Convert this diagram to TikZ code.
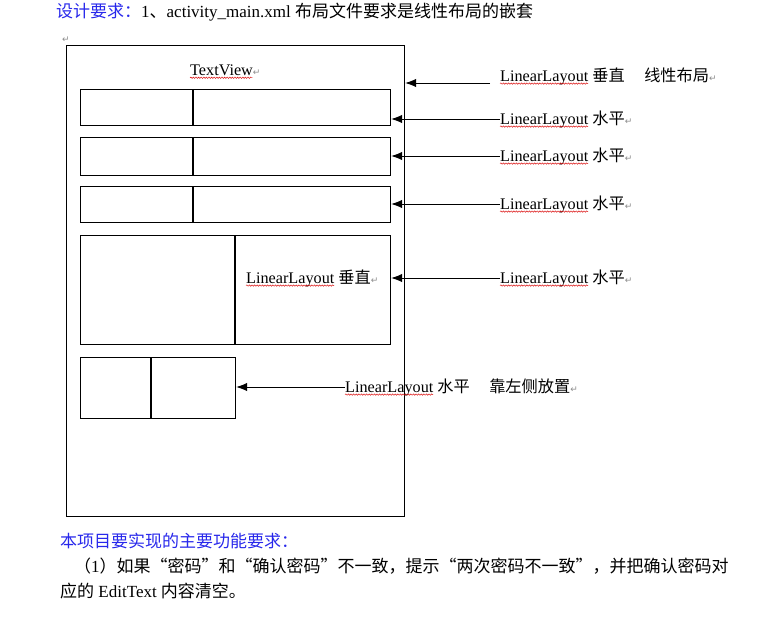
\documentclass[tikz,border=0pt]{standalone}
\usepackage{fontspec}
\setmainfont{Liberation Serif}
\newfontfamily\cjk{Noto Sans CJK SC}
\newfontfamily\djv{DejaVu Sans}
\usetikzlibrary{arrows.meta, calc, positioning, decorations.pathmorphing}
\definecolor{docblue}{RGB}{40,40,235}

\newcommand\parmark{{\djv\fontsize{9}{9}\selectfont\color{black!45}\char"21B5}}
\newlength\llwidth
\newlength\tvwidth

\begin{document}
\settowidth{\llwidth}{\fontsize{16.2}{19}\selectfont LinearLayout}
\settowidth{\tvwidth}{\fontsize{16.2}{19}\selectfont TextView}
\begin{tikzpicture}[x=1pt, y=-1pt,
  box/.style={draw, line width=1.2pt, anchor=north west, inner sep=0pt},
  lbl/.style={anchor=west, inner sep=0pt, font=\fontsize{16.2}{19}\selectfont},
  txt/.style={anchor=west, inner sep=0pt, font=\fontsize{17}{20}\selectfont},
  arr/.style={-{Latex[length=11pt,width=8.5pt]}, line width=1pt},
  wave/.style={red!85!black, line width=0.45pt, decorate,
    decoration={snake, amplitude=0.7pt, segment length=2.6pt}}]
\useasboundingbox (0,0) rectangle (776,619);

% heading
\node[txt] (head) at (56,12) {{\cjk\color{docblue}设计要求：}1{\cjk 、}activity\_main.xml {\cjk 布局文件要求是线性布局的嵌套}};
\node[anchor=west, inner sep=0pt] (mark) at (62,40) {\parmark};

% outer box and rows
\node[box, minimum width=338pt, minimum height=471pt] (outer) at (66,45) {};
\node[lbl] (tv) at (190,70) {TextView\parmark};
\node[box, minimum width=310pt, minimum height=36pt] (row1) at (80,89) {};
\node[box, minimum width=310pt, minimum height=38pt] (row2) at (80,137) {};
\node[box, minimum width=310pt, minimum height=36pt] (row3) at (80,186) {};
\node[box, minimum width=310pt, minimum height=109pt] (row4) at (80,235) {};
\node[box, minimum width=155pt, minimum height=61pt] (row5) at (80,357) {};
% dividers
\foreach \r in {row1,row2,row3}
  \draw[line width=1.2pt] ([xshift=113pt]\r.north west) -- ([xshift=113pt]\r.south west);
\draw[line width=1.2pt] ([xshift=155pt]row4.north west) -- ([xshift=155pt]row4.south west);
\draw[line width=1.2pt] ([xshift=71pt]row5.north west) -- ([xshift=71pt]row5.south west);
\node[lbl] (inner) at (246,278) {LinearLayout {\cjk 垂直}\parmark};

% labels on the right
\node[lbl] (lab1) at (500,76) {LinearLayout {\cjk 垂直\hspace{1.2em}线性布局}\parmark};
\node[lbl] (lab2) at (500,119) {LinearLayout {\cjk 水平}\parmark};
\node[lbl] (lab3) at (500,156) {LinearLayout {\cjk 水平}\parmark};
\node[lbl] (lab4) at (500,204) {LinearLayout {\cjk 水平}\parmark};
\node[lbl] (lab5) at (500,278) {LinearLayout {\cjk 水平}\parmark};
\node[lbl] (lab6) at (345,387) {LinearLayout {\cjk 水平\hspace{1.2em}靠左侧放置}\parmark};

% spell-check squiggles
\draw[wave] ([yshift=-2.5pt]tv.base west) -- ++(\tvwidth,0);
\foreach \l in {inner,lab1,lab2,lab3,lab4,lab5,lab6}
  \draw[wave] ([yshift=-2.5pt]\l.base west) -- ++(\llwidth,0);

% arrows
\coordinate (s1) at ($(lab1.west)+(-10,7)$);
\draw[arr] (s1) -- (s1 -| outer.east);
\foreach \l/\r in {lab2/row1, lab3/row2, lab4/row3, lab5/row4, lab6/row5}
  \draw[arr] (\l.west) -- (\l.west -| \r.east);

% requirements below
\node[txt, text=docblue] (req) at (60,541) {\cjk 本项目要实现的主要功能要求：};
\node[txt] (req1) at (74,566) {{\cjk （}1{\cjk ）如果“密码”和“确认密码”不一致，提示“两次密码不一致”，并把确认密码对}};
\node[txt] (req2) at (60,591) {{\cjk 应的} EditText {\cjk 内容清空。}};
\end{tikzpicture}
\end{document}
